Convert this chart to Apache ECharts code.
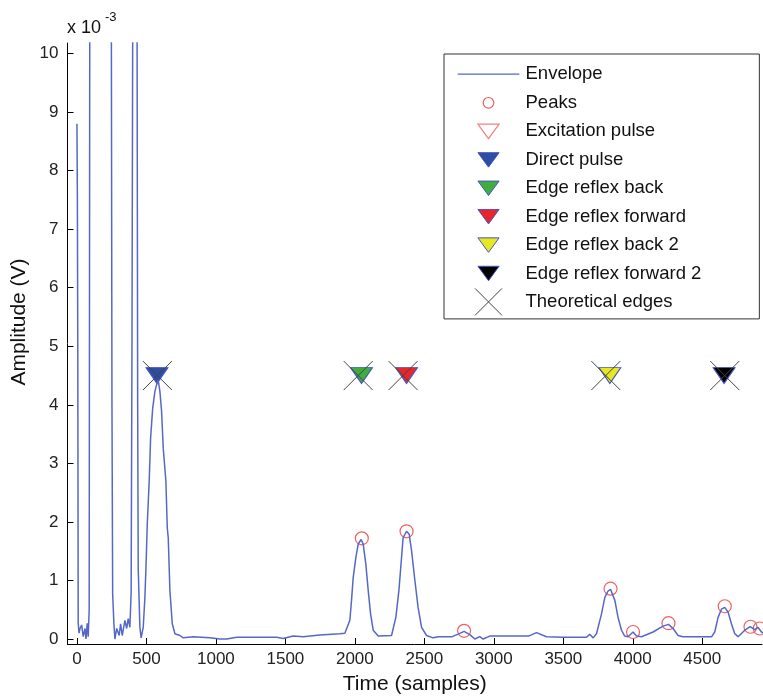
<!DOCTYPE html>
<html>
<head>
<meta charset="utf-8">
<script src="https://cdn.jsdelivr.net/npm/echarts@6/dist/echarts.min.js"></script>
<style>
    html, body { margin: 0; padding: 0; background: #fff; }
    #chart { width: 763px; height: 700px; }
</style>
</head>
<body>
<div id="chart"></div>
<script>
// values in 1e-3 V, x in samples
const xTicks = [0, 500, 1000, 1500, 2000, 2500, 3000, 3500, 4000, 4500]
const yTicks = [0, 1, 2, 3, 4, 5, 6, 7, 8, 9, 10]

// excitation part goes off the top of the axis, 20 is a guess
const envelope = [
    [0, 8.8], [3, 7.6], [6, 5.0], [9, 0.27], [15, 0.1], [22, 0.18], [34, 0.24], [45, 0.04],
    [58, 0.18], [65, 0.0], [74, 0.27], [81, 0.04], [88, 0.5], [92, 10], [96, 20],
    [244, 20], [248, 10], [252, 4], [257, 0.77], [266, 0.26], [273, 0.0], [286, 0.18],
    [304, 0.06], [314, 0.26], [326, 0.06], [345, 0.32], [358, 0.18], [369, 0.35], [381, 0.2],
    [390, 0.8], [396, 5], [401, 10.2], [404, 20], [429, 20], [433, 10], [437, 4], [441, 1.2],
    [453, 0.2], [462, 0.02], [471, 0.0], [477, 0.2], [489, 0.71], [496, 1.17], [506, 1.96],
    [520, 2.7], [530, 3.43], [545, 3.94], [561, 4.23], [573, 4.34], [585, 4.42], [597, 4.23],
    [609, 3.89], [621, 3.26], [640, 2.7], [650, 1.9], [657, 1.73], [669, 0.83], [686, 0.26],
    [705, 0.09], [741, 0.06], [765, 0.02], [837, 0.04], [897, 0.03], [957, 0.02], [1029, 0.0],
    [1077, 0.0], [1149, 0.03], [1268, 0.03], [1437, 0.03], [1484, 0.01], [1556, 0.05],
    [1628, 0.04], [1748, 0.07], [1892, 0.09], [1928, 0.1], [1964, 0.32], [1976, 0.66],
    [1988, 1.05], [2007, 1.39], [2024, 1.62], [2045, 1.7], [2060, 1.62], [2079, 1.28],
    [2096, 0.83], [2113, 0.43], [2132, 0.15], [2168, 0.05], [2264, 0.06], [2295, 0.37],
    [2317, 0.83], [2336, 1.39], [2347, 1.73], [2372, 1.84], [2391, 1.79], [2408, 1.51],
    [2432, 1.0], [2455, 0.54], [2480, 0.2], [2516, 0.06], [2563, 0.02], [2600, 0.04],
    [2700, 0.04], [2740, 0.08], [2786, 0.13], [2830, 0.07], [2863, 0.0], [2899, 0.04],
    [2923, 0.0], [2971, 0.05], [3100, 0.05], [3250, 0.05], [3307, 0.11], [3379, 0.04],
    [3500, 0.03], [3667, 0.03], [3690, 0.08], [3715, 0.02], [3739, 0.09], [3775, 0.43],
    [3799, 0.71], [3822, 0.82], [3840, 0.85], [3871, 0.66], [3894, 0.37], [3919, 0.15],
    [3942, 0.05], [3966, 0.04], [4002, 0.12], [4027, 0.05], [4063, 0.04], [4146, 0.12],
    [4218, 0.22], [4257, 0.25], [4290, 0.18], [4326, 0.06], [4360, 0.04], [4568, 0.04],
    [4590, 0.12], [4614, 0.37], [4638, 0.51], [4662, 0.54], [4686, 0.46], [4710, 0.26],
    [4734, 0.09], [4758, 0.04], [4806, 0.15], [4845, 0.21], [4878, 0.16], [4901, 0.2],
    [4926, 0.12], [4940, 0.1],
]

const peaks = [
    [2050, 1.72], [2372, 1.84], [2786, 0.14], [3840, 0.86], [4002, 0.12],
    [4257, 0.27], [4662, 0.56], [4847, 0.21], [4914, 0.18],
]
const excitationPulse = []
const directPulse = [[576, 4.5]]
const edgeBack = [[2048, 4.5]]
const edgeForward = [[2372, 4.5]]
const edgeBack2 = [[3835, 4.5]]
const edgeForward2 = [[4657, 4.5]]
const theoreticalEdges = [[579, 4.5], [2024, 4.5], [2347, 4.5], [3806, 4.5], [4662, 4.5]]

const font = "'Liberation Sans', Arial, sans-serif"
const lineBlue = "#5568c8"
const edgeBlue = "#4456c8"
const triDown = "path://M0,0 L22,0 L11,16 Z"
const cross = "path://M0,0 L10,10 M10,0 L0,10"

// legend icons are padded to a 28 high box so every row gets the same height
// (fill "transparent" rather than "none": an unfilled path gets a wider hit box)
const pad = "M0,0 L0,0 M28,28 L28,28 "
const lineIcon = "path://M0,0 L0,0 M64,28 L64,28 M0,14 L64,14"
const circleIcon = "path://" + pad +
    "M8.5,14 C8.5,10.96 10.96,8.5 14,8.5 C17.04,8.5 19.5,10.96 19.5,14 " +
    "C19.5,17.04 17.04,19.5 14,19.5 C10.96,19.5 8.5,17.04 8.5,14 Z"
const triIcon = "path://" + pad + "M3,6.5 L25,6.5 L14,21.5 Z"
const crossIcon = "path://M0,0 L28,28 M28,0 L0,28"

const triSeries = (name, data, fill) => ({
    name: name,
    type: "scatter",
    data: data,
    symbol: triDown,
    symbolSize: [22, 16],
    itemStyle: { color: fill, borderColor: edgeBlue, borderWidth: 1, opacity: 1 },
})

const triLegend = (name, fill) => ({
    name: name,
    icon: triIcon,
    itemStyle: { color: fill, borderColor: edgeBlue, borderWidth: 1 },
})

const chart = echarts.init(document.getElementById("chart"))

const option = {
    animation: false,
    backgroundColor: "#fff",
    textStyle: { fontFamily: font },
    grid: { left: 67.5, right: 1, top: 43, bottom: 53 },
    legend: {
        orient: "vertical",
        left: 444,
        top: 54,
        padding: [6, 58, 3, 13],
        itemWidth: 64,
        itemHeight: 27,
        itemGap: 0.4,
        symbolKeepAspect: true,
        backgroundColor: "#fff",
        borderColor: "#333",
        borderWidth: 1,
        selectedMode: false,
        textStyle: { fontSize: 18.5, color: "#111", fontFamily: font },
        data: [
            { name: "Envelope", icon: lineIcon, itemStyle: { color: "transparent", borderColor: lineBlue, borderWidth: 1.3 } },
            { name: "Peaks", icon: circleIcon, itemStyle: { color: "transparent", borderColor: "#f06060", borderWidth: 1.2 } },
            { name: "Excitation pulse", icon: triIcon, itemStyle: { color: "transparent", borderColor: "#f06060", borderWidth: 1.2 } },
            triLegend("Direct pulse", "#2e4da3"),
            triLegend("Edge reflex back", "#3fae3f"),
            triLegend("Edge reflex forward", "#e8262a"),
            triLegend("Edge reflex back 2", "#e8e81e"),
            triLegend("Edge reflex forward 2", "#000"),
            { name: "Theoretical edges", icon: crossIcon, itemStyle: { color: "transparent", borderColor: "#444", borderWidth: 1 } },
        ],
    },
    xAxis: {
        type: "value",
        min: -68,
        max: 4930,
        name: "Time (samples)",
        nameLocation: "middle",
        nameGap: 30,
        nameTextStyle: { fontSize: 21, color: "#111", fontFamily: font },
        axisLine: { onZero: false, lineStyle: { color: "#000", width: 1 } },
        axisTick: { inside: true, length: 6, customValues: xTicks, lineStyle: { color: "#000" } },
        axisLabel: {
            customValues: xTicks, margin: 7, fontSize: 17, color: "#222", fontFamily: font,
            formatter: (v) => String(v),
        },
        splitLine: { show: false },
    },
    yAxis: {
        type: "value",
        min: -0.085,
        max: 10.18,
        axisLine: { show: true, onZero: false, lineStyle: { color: "#000", width: 1 } },
        axisTick: { show: true, inside: true, length: 6, customValues: yTicks, lineStyle: { color: "#000" } },
        axisLabel: {
            customValues: yTicks, margin: 9, fontSize: 17, color: "#222", fontFamily: font,
            formatter: (v) => String(v),
        },
        splitLine: { show: false },
    },
    graphic: [
        {
            type: "text", x: 19, y: 322, rotation: Math.PI / 2,
            style: { text: "Amplitude (V)", fill: "#111", font: "21px " + font, align: "center", verticalAlign: "middle" },
        },
        {
            type: "text", x: 67, y: 28,
            style: { text: "x 10", fill: "#111", font: "18px " + font, align: "left", verticalAlign: "middle" },
        },
        {
            type: "text", x: 105, y: 17,
            style: { text: "-3", fill: "#111", font: "13px " + font, align: "left", verticalAlign: "middle" },
        },
    ],
    series: [
        {
            name: "Envelope",
            type: "line",
            data: envelope,
            symbol: "none",
            showSymbol: false,
            clip: true,
            lineStyle: { color: lineBlue, width: 1.5 },
            itemStyle: { color: lineBlue },
        },
        {
            name: "Peaks",
            type: "scatter",
            data: peaks,
            symbol: "circle",
            symbolSize: 13,
            itemStyle: { color: "transparent", borderColor: "#f06060", borderWidth: 1.2, opacity: 1 },
        },
        {
            name: "Excitation pulse",
            type: "scatter",
            data: excitationPulse,
            symbol: triDown,
            symbolSize: [22, 16],
            itemStyle: { color: "transparent", borderColor: "#f06060", borderWidth: 1.2 },
        },
        triSeries("Direct pulse", directPulse, "#2e4da3"),
        triSeries("Edge reflex back", edgeBack, "#3fae3f"),
        triSeries("Edge reflex forward", edgeForward, "#e8262a"),
        triSeries("Edge reflex back 2", edgeBack2, "#e8e81e"),
        triSeries("Edge reflex forward 2", edgeForward2, "#000"),
        {
            name: "Theoretical edges",
            type: "scatter",
            data: theoreticalEdges,
            symbol: cross,
            symbolSize: 29,
            itemStyle: { color: "none", borderColor: "#444", borderWidth: 1, opacity: 1 },
        },
    ],
}

chart.setOption(option)
</script>
</body>
</html>
